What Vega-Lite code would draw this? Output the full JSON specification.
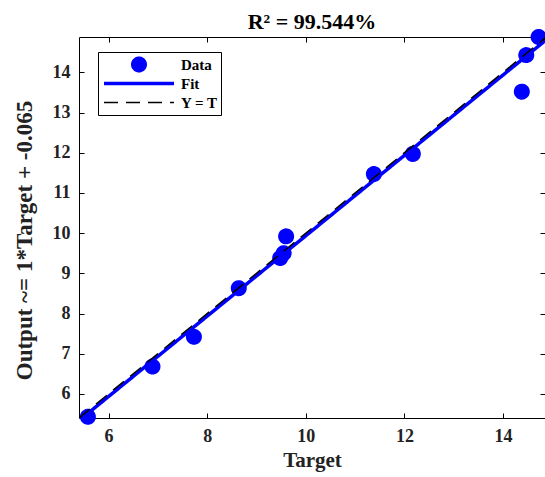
{
  "$schema": "https://vega.github.io/schema/vega-lite/v6.json",
  "width": 466,
  "height": 381,
  "autosize": {"type": "none"},
  "padding": {"left": 79, "top": 37, "right": 0, "bottom": 59},
  "background": "white",
  "title": {"text": "R² = 99.544%", "font": "Liberation Serif", "fontSize": 22, "fontWeight": "bold", "color": "black", "offset": -13},
  "datasets": {
    "pts": [
      {"series": "Data", "t": 5.58, "o": 5.43},
      {"series": "Data", "t": 6.89, "o": 6.68},
      {"series": "Data", "t": 7.73, "o": 7.42},
      {"series": "Data", "t": 8.64, "o": 8.63},
      {"series": "Data", "t": 9.48, "o": 9.38},
      {"series": "Data", "t": 9.55, "o": 9.5},
      {"series": "Data", "t": 9.6, "o": 9.92},
      {"series": "Data", "t": 11.38, "o": 11.47},
      {"series": "Data", "t": 12.17, "o": 11.97},
      {"series": "Data", "t": 14.38, "o": 13.52},
      {"series": "Data", "t": 14.47, "o": 14.43},
      {"series": "Data", "t": 14.72, "o": 14.88}
    ],
    "lines": [
      {"series": "Fit", "t": 5.4, "o": 5.335},
      {"series": "Fit", "t": 14.85, "o": 14.785},
      {"series": "Y = T", "t": 5.4, "o": 5.4},
      {"series": "Y = T", "t": 14.85, "o": 14.85}
    ]
  },
  "layer": [
    {
      "data": {"name": "pts"},
      "mark": {"type": "point", "filled": true, "opacity": 1, "clip": false, "size": 4900},
      "encoding": {
        "x": {"field": "t", "type": "quantitative", "scale": {"domain": [5.4, 14.85], "nice": false, "zero": false},
              "axis": {"values": [6, 8, 10, 12, 14], "title": "Target", "grid": false}},
        "y": {"field": "o", "type": "quantitative", "scale": {"domain": [5.4, 14.88], "nice": false, "zero": false},
              "axis": {"values": [6, 7, 8, 9, 10, 11, 12, 13, 14], "title": "Output ~= 1*Target + -0.065", "grid": false, "titleY": 203}},
        "fill": {"field": "series", "type": "nominal", "title": null, "scale": {"domain": ["Data", "Fit", "Y = T"], "range": ["#0000ff", "#0000ff", "#000000"]}},
        "stroke": {"field": "series", "type": "nominal", "title": null, "scale": {"domain": ["Data", "Fit", "Y = T"], "range": ["#0000ff", "#0000ff", "#000000"]}},
        "shape": {"field": "series", "type": "nominal", "title": null, "scale": {"domain": ["Data", "Fit", "Y = T"], "range": ["M-0.15,0A0.15,0.15,0,1,0,0.15,0A0.15,0.15,0,1,0,-0.15,0Z", "M-1,0H1", "M-1,0H1"]}},
        "strokeDash": {"field": "series", "type": "nominal", "title": null, "scale": {"domain": ["Data", "Fit", "Y = T"], "range": [[1, 0], [1, 0], [14, 8]]}},
        "strokeWidth": {"field": "series", "type": "nominal", "title": null, "scale": {"domain": ["Data", "Fit", "Y = T"], "range": [5.5, 1.5]}}
      }
    },
    {
      "data": {"name": "lines"},
      "mark": {"type": "line", "clip": true},
      "encoding": {
        "x": {"field": "t", "type": "quantitative", "axis": {"orient": "top", "values": [6, 8, 10, 12, 14], "labels": false, "title": null, "grid": false, "labelPadding": 0}},
        "y": {"field": "o", "type": "quantitative", "axis": {"orient": "right", "values": [6, 7, 8, 9, 10, 11, 12, 13, 14], "labels": false, "title": null, "grid": false, "labelPadding": 0}},
        "stroke": {"field": "series", "type": "nominal", "title": null},
        "strokeDash": {"field": "series", "type": "nominal", "title": null},
        "strokeWidth": {"field": "series", "type": "nominal", "title": null}
      }
    }
  ],
  "resolve": {"axis": {"x": "independent", "y": "independent"}},
  "config": {
    "view": {"stroke": null},
    "axis": {
      "domainColor": "black",
      "domainWidth": 1,
      "tickColor": "black",
      "tickSize": -5,
      "labelFont": "Liberation Serif",
      "labelFontWeight": "bold",
      "labelFontSize": 18,
      "labelColor": "#222222",
      "labelPadding": 14,
      "titleFont": "Liberation Serif",
      "titleFontWeight": "bold",
      "titleFontSize": 21,
      "titleColor": "#222222"
    },
    "axisX": {"titlePadding": 4},
    "axisY": {"titlePadding": 16, "titleFontSize": 23},
    "legend": {
      "orient": "none",
      "legendX": 19,
      "legendY": 15,
      "strokeColor": "black",
      "fillColor": "white",
      "padding": 3,
      "labelFont": "Liberation Serif",
      "labelFontWeight": "bold",
      "labelFontSize": 15,
      "labelColor": "black",
      "labelOffset": 4,
      "rowPadding": 0,
      "clipHeight": 19,
      "symbolSize": 4900,
      "symbolOpacity": 1
    }
  }
}
